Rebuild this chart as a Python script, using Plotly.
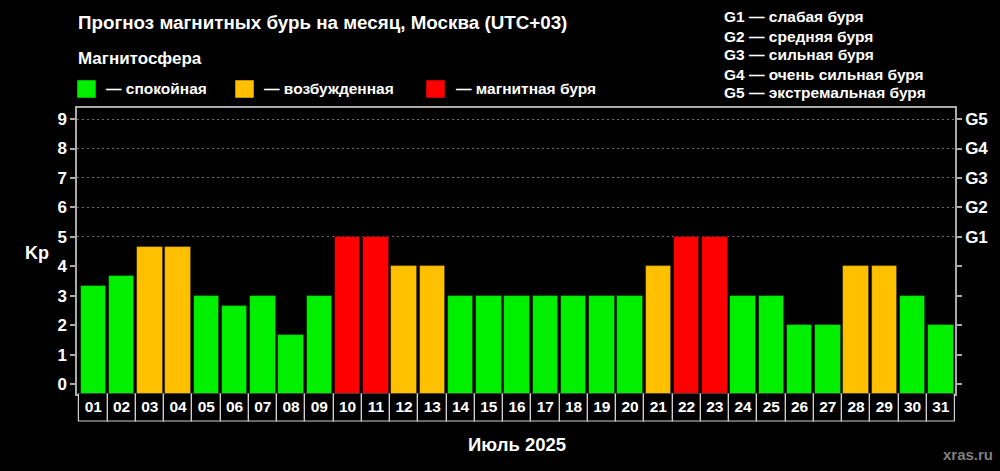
import plotly.graph_objects as go

# ---------------- data ----------------
days = [f"{d:02d}" for d in range(1, 32)]
kp = [3.33, 3.67, 4.67, 4.67, 3, 2.67, 3, 1.67, 3, 5, 5, 4, 4, 3, 3, 3, 3, 3, 3, 3,
      4, 5, 5, 3, 3, 2, 2, 4, 4, 3, 2]
status = [0, 0, 1, 1, 0, 0, 0, 0, 0, 2, 2, 1, 1, 0, 0, 0, 0, 0, 0, 0,
          1, 2, 2, 0, 0, 0, 0, 1, 1, 0, 0]
status_colors = ["#00f000", "#ffc000", "#ff0000"]
status_labels = ["— спокойная", "— возбужденная", "— магнитная буря"]
kp_ticks = list(range(10))
g_ticks = ["", "", "", "", "", "G1", "G2", "G3", "G4", "G5"]
g_legend = ["G1 — слабая буря", "G2 — средняя буря", "G3 — сильная буря",
            "G4 — очень сильная буря", "G5 — экстремальная буря"]
title = "Прогноз магнитных бурь на месяц, Москва (UTC+03)"
subtitle = "Магнитосфера"
x_title = "Июль 2025"
y_title = "Kp"
credit = "xras.ru"

# ---------------- layout geometry ----------------
W, H = 1000, 471
ML, MR, MT, MB = 77, 45, 108, 49
PW, PH = W - ML - MR, H - MT - MB
Y_MIN, Y_MAX = -0.316, 9.374
STRIP = 28.4 / PH

FONT = "Liberation Sans, Arial, sans-serif"
FRAME = "#aaaaaa"


def px_x(x):
    return (x - ML) / PW


def px_y(y):
    return (H - MB - y) / PH


fig = go.Figure()

fig.add_trace(go.Bar(
    x=days, y=[v - Y_MIN for v in kp], base=Y_MIN, width=0.9,
    marker=dict(color=[status_colors[s] for s in status],
                line=dict(color="rgba(0,0,0,0.45)", width=0.8)),
    xaxis="x", yaxis="y", showlegend=False, hoverinfo="skip",
))

# day-label strip: boxed cells under the plot
fig.add_trace(go.Bar(
    x=days, y=[1] * len(days), width=1,
    marker=dict(color="#000000", line=dict(color="#d0d0d0", width=1.2)),
    xaxis="x2", yaxis="y3", showlegend=False, hoverinfo="skip",
))
fig.add_trace(go.Scatter(
    x=days, y=[0.5] * len(days), mode="text", text=days,
    textposition="middle center",
    textfont=dict(family=FONT, size=15.5, color="white", weight="bold"),
    xaxis="x2", yaxis="y3", showlegend=False, hoverinfo="skip",
))

# invisible helpers so the overlaying axes (right G-scale, grid) are rendered
for ax in ["y2", "y4"]:
    fig.add_trace(go.Scatter(x=[days[0]], y=[Y_MIN], mode="markers",
                             marker=dict(opacity=0), xaxis="x", yaxis=ax,
                             showlegend=False, hoverinfo="skip"))

axis_font = dict(family=FONT, size=17, color="white", weight="bold")

fig.update_layout(
    width=W, height=H,
    margin=dict(l=ML, r=MR, t=MT, b=MB, pad=0),
    paper_bgcolor="black", plot_bgcolor="black",
    bargap=0,
    xaxis=dict(domain=[0, 1], anchor="y", range=[-0.58, 30.5],
               showline=True, linecolor=FRAME, linewidth=1.5, mirror=True,
               showticklabels=False, ticks="", showgrid=False, zeroline=False),
    xaxis2=dict(domain=[0, 1], anchor="y3", matches="x", visible=False),
    yaxis=dict(domain=[STRIP, 1], anchor="x", range=[Y_MIN, Y_MAX],
               tickvals=kp_ticks, ticks="outside", ticklen=5, tickwidth=1.5,
               tickcolor=FRAME, showline=True, linecolor=FRAME, linewidth=1.5,
               showgrid=False, zeroline=False, tickfont=axis_font),
    yaxis2=dict(overlaying="y", side="right", anchor="x", range=[Y_MIN, Y_MAX],
                tickvals=kp_ticks, ticktext=g_ticks, ticks="outside", ticklen=5,
                tickwidth=1.5, tickcolor=FRAME, showline=True, linecolor=FRAME,
                linewidth=1.5, showgrid=False, zeroline=False, tickfont=axis_font),
    yaxis4=dict(overlaying="y", side="left", anchor="x", range=[Y_MIN, Y_MAX],
                tickvals=kp_ticks[5:], showgrid=True, gridcolor="#6e6e6e",
                gridwidth=1, griddash="2px,3px", showticklabels=False, ticks="",
                showline=False, zeroline=False),
    yaxis3=dict(domain=[0, STRIP], anchor="x2", range=[0, 1], visible=False),
)

ann = []


def text(s, x, y, size, xanchor="left", color="white"):
    ann.append(dict(text=s, x=px_x(x), y=px_y(y), xref="paper", yref="paper",
                    xanchor=xanchor, yanchor="middle", showarrow=False,
                    font=dict(family=FONT, size=size, color=color, weight="bold")))


text(title, 76, 23, 18.8)
text(subtitle, 76, 59, 17)
sq_x = [77, 235, 426]
tx_x = [104, 262, 454]
shapes = []
for i, lab in enumerate(status_labels):
    shapes.append(dict(type="rect", xref="paper", yref="paper",
                       x0=px_x(sq_x[i]), x1=px_x(sq_x[i] + 19),
                       y0=px_y(98), y1=px_y(80),
                       fillcolor=status_colors[i],
                       line=dict(color="rgba(0,0,0,0.5)", width=1)))
    text(lab, tx_x[i], 89, 15.5)
for i, lab in enumerate(g_legend):
    text(lab, 722, 17 + 19 * i, 15.5)
text(y_title, 37, 253, 18, xanchor="center")
text(x_title, 517, 444, 18.5, xanchor="center")
text(credit, 995, 454, 15, xanchor="right", color="#7f7f7f")

fig.update_layout(annotations=ann, shapes=shapes)

fig.write_html("out.html", config={"displayModeBar": False},
               post_script="document.body.style.margin='0';")
